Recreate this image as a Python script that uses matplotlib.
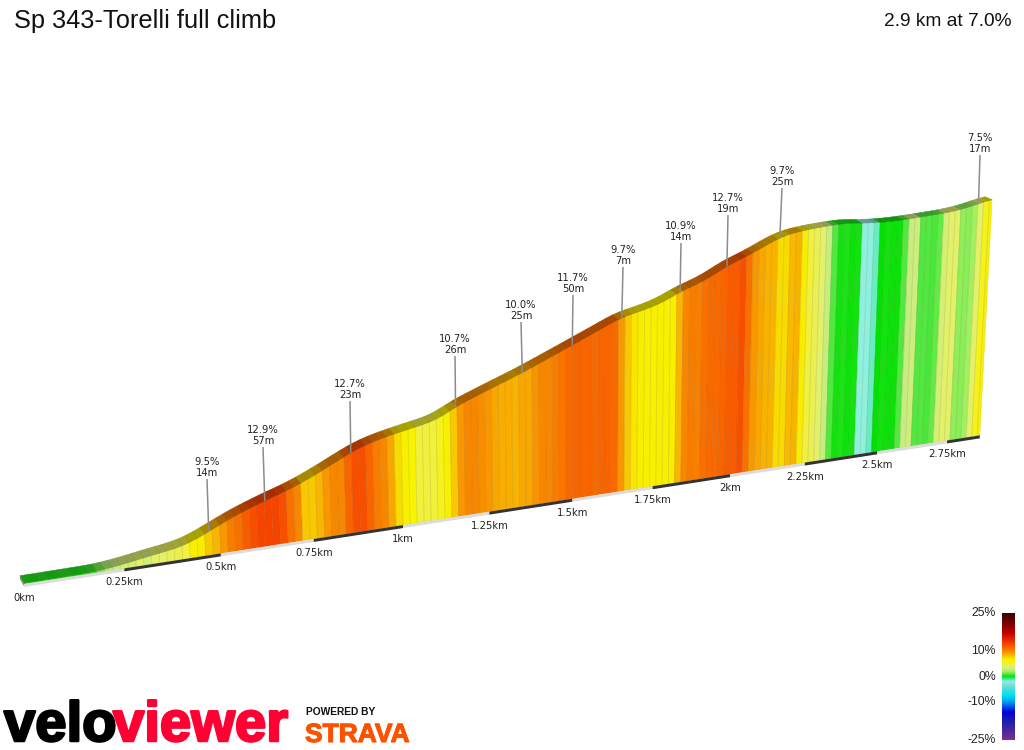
import numpy as np
import matplotlib
matplotlib.use("Agg")
import matplotlib.pyplot as plt
import matplotlib.patheffects as pe
from matplotlib.collections import PolyCollection
from matplotlib.colors import LinearSegmentedColormap, Normalize
from matplotlib.patches import Polygon

TITLE = "Sp 343-Torelli full climb"
SUMMARY = "2.9 km at 7.0%"

# Elevation profile: distance along the climb (km) and height gained (m)
profile_km = [0.0, 0.181, 0.249, 0.272, 0.333, 0.392, 0.418, 0.471, 0.535, 0.622, 0.682,
              0.717, 0.763, 0.808, 0.859, 0.902, 0.959, 1.023, 1.101, 1.156, 1.253,
              1.351, 1.425, 1.500, 1.583, 1.650, 1.704, 1.774, 1.830, 1.912, 1.977,
              2.048, 2.146, 2.198, 2.274, 2.364, 2.435, 2.510, 2.590, 2.708, 2.779,
              2.822, 2.870]
profile_m = [0.6, 1.0, 3.0, 4.2, 6.7, 8.8, 10.8, 17.0, 25.0, 33.5, 38.5,
             42.0, 47.5, 53.3, 60.0, 64.5, 68.3, 71.7, 75.7, 83.9, 93.8,
             103.5, 111.8, 120.3, 129.8, 137.8, 140.5, 145.4, 152.8, 160.0, 169.5,
             176.5, 188.4, 191.4, 193.5, 194.9, 193.1, 192.4, 193.3, 195.2, 197.5,
             200.5, 202.9]

# Gradient (%) of each 20 m slice of road, ten slices per line
grade_pct = [
    0.4, 0.3, 0.5, 0.3, 0.4, 0.5, 0.3, 0.4, 0.6, 1.5,
    2.5, 3.0, 3.5, 3.5, 4.0, 3.5, 4.0, 4.0, 4.5, 4.5,
    5.0, 6.5, 7.0, 8.0, 8.5, 9.5, 10.5, 11.0, 12.0, 12.5,
    13.0, 13.0, 13.0, 12.5, 11.0, 10.0, 8.0, 8.0, 8.5, 9.5,
    10.0, 10.0, 11.5, 12.5, 12.5, 11.5, 10.5, 10.0, 9.0, 7.5,
    6.5, 6.0, 5.0, 5.0, 5.0, 5.5, 6.5, 8.0, 9.5, 10.0,
    10.0, 9.8, 9.5, 9.0, 8.8, 8.8, 8.6, 9.0, 9.0, 9.6,
    10.0, 10.0, 10.5, 10.8, 11.3, 11.5, 11.5, 11.5, 11.3, 11.5,
    11.5, 11.3, 9.5, 8.0, 7.2, 6.8, 6.5, 6.5, 6.6, 6.5,
    6.8, 8.5, 10.0, 10.5, 10.3, 11.0, 11.3, 11.3, 11.5, 12.0,
    12.0, 12.5, 11.0, 9.5, 9.0, 8.6, 8.6, 7.5, 7.5, 8.4,
    8.6, 7.0, 5.0, 4.5, 4.0, 3.0, 1.0, 0.2, 0.3, 0.1,
    0.2, -2.0, -2.0, -1.5, 0.0, 0.2, 0.1, 0.1, 1.0, 3.0,
    3.2, 1.0, 1.0, 0.9, 1.2, 3.5, 4.0, 4.0, 1.8, 1.7,
    2.0, 4.0, 5.5, 6.5,
]
SLICE_KM = 0.02

# Distance markers along the base of the profile
tick_km = [0.0, 0.25, 0.5, 0.75, 1.0, 1.25, 1.5, 1.75, 2.0, 2.25, 2.5, 2.75]
tick_labels = ["0km", "0.25km", "0.5km", "0.75km", "1km", "1.25km", "1.5km",
               "1.75km", "2km", "2.25km", "2.5km", "2.75km"]

# Steepest sections called out above the road
callout_km = [0.471, 0.622, 0.859, 1.156, 1.351, 1.500, 1.650, 1.830, 1.977, 2.146, 2.822]
callout_grade = ["9.5%", "12.9%", "12.7%", "10.7%", "10.0%", "11.7%",
                 "9.7%", "10.9%", "12.7%", "9.7%", "7.5%"]
callout_gain = ["14m", "57m", "23m", "26m", "25m", "50m", "7m", "14m", "19m", "25m", "17m"]

# Gradient colour scale
scale_ticks = [25, 10, 0, -10, -25]
scale_nodes = [
    (-25, "#7a3090"), (-18, "#2020a8"), (-14, "#0000e0"), (-10, "#00a0f0"),
    (-7, "#00e8f0"), (-4, "#70d8d8"), (-2, "#90f0e0"), (-1, "#40e8a0"),
    (0, "#00e000"), (1, "#50e840"), (2, "#a0f060"), (3, "#c8ec80"),
    (4, "#e4f068"), (5, "#f0f040"), (6, "#f8f400"), (7, "#f8ec00"),
    (8, "#f8c800"), (9, "#f8a800"), (10, "#f88800"), (11, "#f87000"),
    (12.5, "#f85000"), (14, "#f03000"), (17, "#c80000"), (20, "#8b0000"),
    (25, "#3c0000"),
]
norm = Normalize(-25, 25)
cmap = LinearSegmentedColormap.from_list(
    "gradient", [(norm(g), c) for g, c in scale_nodes], N=512)

# Oblique perspective used for the 3D profile
X0, Y0 = 24.0, 584.0
RUN, FORESHORTEN = 409.5, 0.08
BASE_SLOPE = 0.1555
M_TO_PX = 1.43
LEAN, VANISH_X = 0.00013, 580.0


def base_point(km):
    km = np.asarray(km, dtype=float)
    xb = X0 + RUN * km / (1 + FORESHORTEN * km)
    return xb, Y0 - BASE_SLOPE * (xb - X0)


def project(km, metres):
    km = np.asarray(km, dtype=float)
    xb, yb = base_point(km)
    hp = M_TO_PX * np.asarray(metres, dtype=float) / (1 + FORESHORTEN * km)
    return xb + LEAN * (xb - VANISH_X) * hp, yb - hp


def road_depth(x):
    # Screen offset from the near edge of the road to its far edge
    t = np.asarray(x) / 1000.0
    return -4.0 - 3.0 * t, -7.5 + 4.5 * t


def rounded(values):
    # Soften the corners of the road line so that it draws as a curve
    kernel = np.array([1, 2, 3, 2, 1]) / 9.0
    padded = np.r_[[values[0]] * 2, values, [values[-1]] * 2]
    return np.convolve(padded, kernel, mode="valid")


plt.rcParams["font.family"] = ["DejaVu Sans"]
fig = plt.figure(figsize=(10.24, 7.5), dpi=100, facecolor="white")
ax = fig.add_axes([0, 0, 1, 1])

end_km = profile_km[-1]
edges = np.minimum(SLICE_KM * np.arange(len(grade_pct) + 1), end_km)
edges[-1] = end_km
tops = rounded(np.interp(edges, profile_km, profile_m))
colors = cmap(norm(grade_pct))

# Wall below the road
bx, by = base_point(edges)
tx, ty = project(edges, tops)
wall = [[(bx[i], by[i]), (bx[i + 1], by[i + 1]), (tx[i + 1], ty[i + 1]), (tx[i], ty[i])]
        for i in range(len(grade_pct))]
ax.add_collection(PolyCollection(wall, facecolors=colors, edgecolors=colors,
                                 linewidths=0.3, zorder=2))
ax.add_collection(PolyCollection(wall, facecolors="none",
                                 edgecolors=(0.45, 0.38, 0.2, 0.09),
                                 linewidths=0.6, zorder=2.1))

# Road surface: a darker ribbon on top of the wall
dx, dy = road_depth(tx)
ribbon = [[(tx[i], ty[i]), (tx[i + 1], ty[i + 1]),
           (tx[i + 1] + dx[i + 1], ty[i + 1] + dy[i + 1]), (tx[i] + dx[i], ty[i] + dy[i])]
          for i in range(len(grade_pct))]
dark = colors.copy()
dark[:, :3] *= 0.68
ax.add_collection(PolyCollection(ribbon, facecolors=dark, edgecolors=dark,
                                 linewidths=0.3, zorder=3))
ax.add_collection(PolyCollection(ribbon, facecolors="none",
                                 edgecolors=(0.2, 0.2, 0.1, 0.08),
                                 linewidths=0.5, zorder=3.1))

# Grey end cap at the start of the road
ax.add_patch(Polygon([(tx[0] + dx[0], ty[0] + dy[0]), (tx[0], ty[0]),
                      (tx[0], ty[0] + 3), (tx[0] + dx[0], ty[0] + dy[0] + 3)],
                     closed=True, facecolor="#808080", edgecolor="none", zorder=3.2))

# Alternating distance band along the base
band_km = tick_km + [end_km]
for i in range(len(tick_km)):
    x0, y0 = base_point(band_km[i])
    x1, y1 = base_point(band_km[i + 1])
    ax.add_patch(Polygon([(x0, y0), (x1, y1), (x1, y1 + 3), (x0, y0 + 3)], closed=True,
                         facecolor="#333333" if i % 2 else "#dcdcdc",
                         edgecolor="none", zorder=4))

for km, label in zip(tick_km, tick_labels):
    x, y = base_point(km)
    ax.text(x, y + 14, label, ha="center", va="center", fontsize=7.2, color="#222222")

# Callouts: top end of each leader line on screen
leader_tops = [(207, 479), (263, 447), (350, 401), (455, 356), (521, 322), (573, 295),
               (623, 267), (681, 243), (728, 215), (782, 188), (980, 155)]
for km, grade, gain, (lx, ly) in zip(callout_km, callout_grade, callout_gain, leader_tops):
    px, py = project(km, np.interp(km, edges, tops))
    ax.plot([lx, px], [ly, py], color="#8c8c8c", lw=1.1, zorder=5, solid_capstyle="butt")
    ax.text(lx, ly - 17, grade, ha="center", va="center", fontsize=7.2, color="#222222")
    ax.text(lx, ly - 6, gain, ha="center", va="center", fontsize=7.2, color="#222222")

# Title and summary
ax.text(14, 28, TITLE, family="Liberation Sans", fontsize=18.3, color="#111111",
        ha="left", va="baseline")
ax.text(1011, 26, SUMMARY, family="Liberation Sans", fontsize=13.8, color="#111111",
        ha="right", va="baseline")

# Gradient scale
BAR_TOP, BAR_BOTTOM = 613, 740
grades = np.linspace(25, -25, 256).reshape(-1, 1)
ax.imshow(grades, cmap=cmap, norm=norm, aspect="auto", interpolation="bilinear",
          extent=[1002, 1015, BAR_BOTTOM, BAR_TOP], zorder=2)
for g in scale_ticks:
    y = BAR_TOP + (25 - g) * (BAR_BOTTOM - BAR_TOP) / 50
    ax.text(996, y, f"{g}%", family="Liberation Sans", fontsize=8.8, color="#222222",
            ha="right", va="center")

# Wordmarks along the bottom edge
ax.text(4, 741, "velo", family="Liberation Sans", weight="bold", fontsize=40.5,
        color="black", ha="left", va="baseline", zorder=6,
        path_effects=[pe.withStroke(linewidth=1.8, foreground="black")])
ax.text(113, 741, "viewer", family="Liberation Sans", weight="bold", fontsize=40.5,
        color="#ff0033", ha="left", va="baseline", zorder=6,
        path_effects=[pe.withStroke(linewidth=1.8, foreground="#ff0033")])
ax.text(306, 715, "POWERED BY", family="Liberation Sans", weight="bold", fontsize=7.4,
        color="#111111", ha="left", va="baseline")
ax.text(305, 742, "STRAVA", family="Liberation Sans", weight="bold", fontsize=19,
        color="#fc5200", ha="left", va="baseline",
        path_effects=[pe.withStroke(linewidth=0.8, foreground="#fc5200")])

ax.set_xlim(0, 1024)
ax.set_ylim(750, 0)
ax.axis("off")
fig.savefig("out.png", dpi=100, facecolor="white")
